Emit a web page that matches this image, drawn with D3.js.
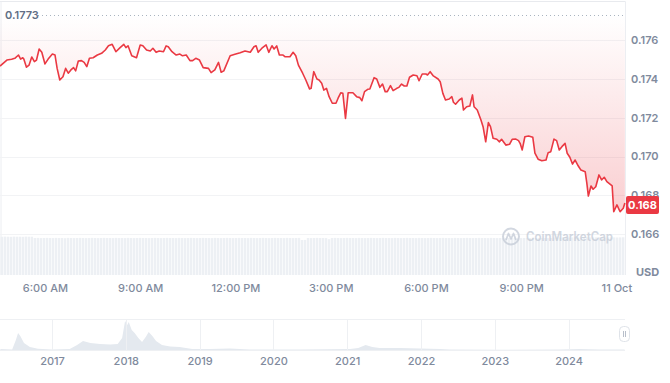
<!DOCTYPE html>
<html><head><meta charset="utf-8">
<script src="https://cdn.jsdelivr.net/npm/d3@7"></script>
<style>body{margin:0;background:#fff;} svg{display:block;font-family:Inter,"Noto Sans",sans-serif;}</style>
</head><body><svg id="c" width="670" height="383"></svg>
<script>
// minutes after 00:00 on 10 Oct
const times = [275,288,297,303,310,314,318,320,325,330,335,340,344,349,354,360,366,374,379,383,388,394,399,404,409,414,418,423,429,434,439,444,451,459,467,474,480,487,494,502,509,513,517,524,533,540,545,552,559,564,570,576,584,589,593,600,608,615,620,627,634,639,645,652,659,669,674,681,688,693,698,710,719,729,738,748,755,759,763,770,778,783,789,793,798,803,810,814,823,829,834,839,847,853,860,863,868,874,878,883,887,892,897,903,910,914,919,923,928,933,942,949,955,959,964,970,974,982,987,993,998,1003,1007,1013,1018,1025,1029,1034,1039,1044,1049,1056,1063,1067,1073,1080,1083,1088,1094,1103,1107,1112,1117,1124,1129,1132,1136,1143,1148,1151,1157,1163,1168,1171,1177,1184,1188,1193,1198,1202,1207,1214,1219,1223,1231,1238,1243,1250,1255,1258,1262,1267,1274,1282,1286,1292,1299,1307,1311,1316,1322,1327,1332,1337,1343,1347,1352,1357,1362,1368,1373,1381,1384,1387,1392,1396,1401,1407,1412,1417,1422,1432,1435,1441,1447,1453,1456];
const prices = [0.17467,0.17498,0.17502,0.17507,0.17524,0.17503,0.17510,0.17503,0.17461,0.17472,0.17514,0.17490,0.17498,0.17555,0.17538,0.17478,0.17503,0.17529,0.17524,0.17455,0.17395,0.17412,0.17455,0.17430,0.17447,0.17459,0.17442,0.17493,0.17495,0.17486,0.17464,0.17507,0.17510,0.17524,0.17533,0.17550,0.17572,0.17579,0.17541,0.17562,0.17579,0.17562,0.17572,0.17520,0.17510,0.17576,0.17572,0.17550,0.17545,0.17559,0.17538,0.17545,0.17541,0.17571,0.17567,0.17541,0.17524,0.17529,0.17520,0.17524,0.17495,0.17495,0.17507,0.17498,0.17459,0.17455,0.17433,0.17447,0.17486,0.17435,0.17442,0.17520,0.17528,0.17536,0.17545,0.17538,0.17567,0.17572,0.17538,0.17559,0.17576,0.17538,0.17572,0.17555,0.17571,0.17524,0.17524,0.17515,0.17515,0.17538,0.17520,0.17472,0.17430,0.17395,0.17349,0.17352,0.17438,0.17400,0.17395,0.17378,0.17343,0.17352,0.17309,0.17275,0.17275,0.17301,0.17329,0.17326,0.17197,0.17329,0.17329,0.17309,0.17304,0.17288,0.17335,0.17347,0.17349,0.17407,0.17400,0.17357,0.17374,0.17335,0.17335,0.17366,0.17340,0.17352,0.17357,0.17374,0.17364,0.17364,0.17409,0.17421,0.17417,0.17391,0.17426,0.17426,0.17421,0.17438,0.17416,0.17400,0.17386,0.17326,0.17292,0.17297,0.17309,0.17280,0.17270,0.17292,0.17301,0.17240,0.17257,0.17261,0.17318,0.17257,0.17240,0.17189,0.17154,0.17076,0.17175,0.17154,0.17094,0.17089,0.17076,0.17089,0.17059,0.17063,0.17089,0.17090,0.17082,0.17068,0.17034,0.17102,0.17106,0.17099,0.17017,0.16986,0.16978,0.16982,0.17020,0.17025,0.17090,0.17082,0.17034,0.17051,0.17068,0.17017,0.16996,0.16961,0.16982,0.16951,0.16930,0.16922,0.16865,0.16796,0.16848,0.16831,0.16844,0.16905,0.16879,0.16893,0.16870,0.16848,0.16715,0.16750,0.16715,0.16733,0.16760];
const volumes = [38.3,38.4,38.3,38.2,38.4,38.3,38.3,38.2,38.4,38.3,38.3,37.0,37.1,36.9,37.0,37.1,
37.0,36.9,37.1,37.0,37.0,36.8,37.1,37.0,36.9,37.0,37.1,37.0,36.9,37.0,37.1,37.0,
36.9,37.0,37.1,37.0,37.0,36.9,37.1,37.0,37.0,36.9,37.1,37.0,36.9,37.0,37.1,37.0,
37.0,36.9,37.0,37.1,37.0,36.9,37.0,37.1,37.0,37.0,36.9,37.1,37.0,36.9,37.0,37.1,
37.0,36.9,37.0,37.1,37.0,37.0,36.9,37.1,37.0,36.9,37.0,37.1,37.0,36.9,37.0,37.1,
37.0,37.0,36.9,37.1,37.0,36.9,37.0,37.1,37.0,36.9,37.0,37.1,37.0,37.0,36.9,37.1,
37.0,36.9,37.0,37.1,35.0,35.1,37.0,36.9,37.0,37.1,37.0,37.0,36.9,35.8,37.0,37.1,
37.0,36.9,37.0,37.1,37.0,37.0,36.9,37.1,37.0,36.9,37.0,37.1,37.0,36.9,37.0,37.1,
37.0,37.0,36.9,37.1,37.0,36.9,37.0,37.1,37.0,37.0,36.9,37.1,37.0,36.9,37.0,37.1,
37.0,36.9,37.0,37.1,37.0,37.0,36.9,37.1,37.0,36.9,37.0,37.1,37.0,36.9,37.0,37.1,
37.0,37.0,36.9,37.1,37.0,36.9,37.0,37.1,37.0,37.0,36.9,37.1,37.0,36.9,37.0,37.1,
37.0,36.9,37.0,37.1,37.0,37.0,36.9,37.1,37.5,37.6,37.5,37.7,37.6,37.5,37.6,37.7,
37.6,37.5,37.6,37.7,37.6,37.5,37.6,37.7,37.6,37.5,37.6,37.7,37.6,37.5,37.6,37.7];
const priceTicks = [0.166,0.168,0.170,0.172,0.174,0.176];
const timeTicks = [360,540,720,900,1080,1260,1440];
const timeTickLabels = ["6:00 AM","9:00 AM","12:00 PM","3:00 PM","6:00 PM","9:00 PM","11 Oct"];
const openPrice = 0.1773;
const navYears = [2016.30,2016.46,2016.51,2016.54,2016.57,2016.62,2016.70,2016.81,2017.00,2017.24,2017.34,2017.42,2017.52,2017.65,2017.79,2017.89,2017.95,2017.99,2018.02,2018.04,2018.08,2018.12,2018.17,2018.22,2018.27,2018.31,2018.36,2018.41,2018.49,2018.60,2018.73,2018.90,2019.14,2019.41,2019.68,2020.36,2021.04,2021.15,2021.25,2021.34,2021.44,2021.72,2021.99,2022.26,2022.39,2023.07,2023.88,2024.15,2024.42,2024.76];
const navValues = [3,2,33,57,47,23,10,4,2,3,17,30,23,20,18,20,40,97,83,93,67,57,40,27,43,60,47,30,17,12,10,3,3,5,2,2,3,7,17,10,7,7,5,3,2,1,2,3,2,2];
const yearTicks = [2017,2018,2019,2020,2021,2022,2023,2024];
const yearTickLabels = ["2017","2018","2019","2020","2021","2022","2023","2024"];

const svg = d3.select("#c");
const W = 625;
const base = new Date(2024, 9, 10, 0, 0, 0);
const toDate = m => new Date(base.getTime() + m * 60000);
const data = times.map((t, i) => ({t: toDate(t), v: prices[i]}));

const x = d3.scaleTime().domain([toDate(275), toDate(1456.25)]).range([0, W]);
const y = d3.scaleLinear().domain([0.166, 0.176]).range([234, 40.3]);
const yv = d3.scaleLinear().domain([0, 40]).range([275, 235]);
const xb = d3.scaleBand().domain(d3.range(volumes.length)).range([0, W]).padding(0.2);

const red = "#ea3943", grey = "#808a9d";

const defs = svg.append("defs");
const grad = defs.append("linearGradient").attr("id", "g").attr("gradientUnits", "userSpaceOnUse")
  .attr("x1", 0).attr("x2", 0).attr("y1", y(openPrice)).attr("y2", 215);
grad.append("stop").attr("offset", 0).attr("stop-color", red).attr("stop-opacity", 0);
grad.append("stop").attr("offset", 1).attr("stop-color", red).attr("stop-opacity", 0.25);

// frame
svg.append("line").attr("x1", 0).attr("x2", W + 0.5).attr("y1", 1.5).attr("y2", 1.5).attr("stroke", "#e8eaee");
svg.append("line").attr("x1", 1).attr("x2", 1).attr("y1", 1.5).attr("y2", 275).attr("stroke", "#eceef2");
svg.append("line").attr("x1", W + 0.5).attr("x2", W + 0.5).attr("y1", 1.5).attr("y2", 275).attr("stroke", "#eceef2");

// grid
svg.append("g").selectAll("line").data(priceTicks).join("line")
  .attr("x1", 0).attr("x2", W).attr("y1", d => Math.round(y(d)) + 0.5).attr("y2", d => Math.round(y(d)) + 0.5)
  .attr("stroke", "#f2f3f5");

// volume bars
svg.append("g").selectAll("rect").data(volumes).join("rect")
  .attr("x", (d, i) => xb(i)).attr("width", xb.bandwidth())
  .attr("y", d => yv(d)).attr("height", d => yv(0) - yv(d)).attr("fill", "#edf0f4");

// area between line and opening price
svg.append("path").datum(data)
  .attr("d", d3.area().x(d => x(d.t)).y0(y(openPrice)).y1(d => y(d.v)))
  .attr("fill", "url(#g)");

// opening dotted line
svg.append("line").attr("x1", 38).attr("x2", W).attr("y1", Math.round(y(openPrice)) + 0.5).attr("y2", Math.round(y(openPrice)) + 0.5)
  .attr("stroke", "#aab4c0").attr("stroke-dasharray", "1,3").attr("stroke-width", 1.2);
svg.append("text").attr("x", 5).attr("y", y(openPrice)).attr("dy", "0.34em")
  .attr("font-size", 11).attr("font-weight", 600).attr("fill", "#616e85").text(d3.format(".4f")(openPrice));

// price line
svg.append("path").datum(data)
  .attr("d", d3.line().x(d => x(d.t)).y(d => y(d.v)))
  .attr("fill", "none").attr("stroke", red).attr("stroke-width", 1.6).attr("stroke-linejoin", "round");

// watermark
const wm = svg.append("g").attr("opacity", 0.75);
wm.append("circle").attr("cx", 511).attr("cy", 236.5).attr("r", 8).attr("fill", "none").attr("stroke", "#c3cad6").attr("stroke-width", 2);
wm.append("path").attr("d", "M506,240 L508.5,233.5 L511,239 L513.5,233.5 L516,240").attr("fill", "none").attr("stroke", "#c3cad6").attr("stroke-width", 1.8).attr("stroke-linejoin", "round");
wm.append("text").attr("x", 526).attr("y", 241).attr("font-size", 12.5).attr("font-weight", 600).attr("fill", "#c3cad6")
  .attr("textLength", 87).attr("lengthAdjust", "spacingAndGlyphs").text("CoinMarketCap");

// y axis labels (right)
svg.append("g").selectAll("text").data(priceTicks).join("text")
  .attr("x", 631).attr("y", d => y(d)).attr("dy", "0.34em")
  .attr("font-size", 11).attr("font-weight", 600).attr("fill", grey).text(d => d3.format(".3f")(d));
svg.append("text").attr("x", 636).attr("y", 272).attr("dy", "0.34em")
  .attr("font-size", 11).attr("font-weight", 700).attr("fill", grey).text("USD");

// last price label
const last = data[data.length - 1];
const ly = y(last.v) + 2;
svg.append("rect").attr("x", 626).attr("y", ly - 9).attr("width", 33).attr("height", 18).attr("rx", 2).attr("fill", red);
svg.append("text").attr("x", 642.5).attr("y", ly).attr("dy", "0.35em").attr("text-anchor", "middle")
  .attr("font-size", 11).attr("font-weight", 700).attr("fill", "#fff").text(d3.format(".3f")(last.v));

// time axis
const xa = svg.append("g").attr("transform", "translate(0,281)")
  .call(d3.axisBottom(x).tickValues(timeTicks.map(toDate)).tickFormat((d, i) => timeTickLabels[i]).tickSize(0).tickPadding(3));
xa.select(".domain").remove();
xa.selectAll("text").attr("font-size", 11).attr("font-weight", 500).attr("fill", grey).attr("font-family", "Inter,'Noto Sans',sans-serif");

// navigator
const xn = d3.scaleLinear().domain([2016.295, 2024.765]).range([0, W]);
const yn = d3.scaleLinear().domain([0, 100]).range([350, 320]);
const nav = svg.append("g");
nav.append("path").datum(navYears.map((d, i) => [d, navValues[i]]))
  .attr("d", d3.area().x(d => xn(d[0])).y0(350).y1(d => yn(d[1])).curve(d3.curveLinear))
  .attr("fill", "#e4e9ef");
nav.selectAll("line.v").data(yearTicks).join("line").attr("class", "v")
  .attr("x1", d => Math.round(xn(d)) + 0.5).attr("x2", d => Math.round(xn(d)) + 0.5).attr("y1", 319.5).attr("y2", 350.5)
  .attr("stroke", "#eef0f3");
nav.append("line").attr("x1", 0).attr("x2", W).attr("y1", 319.5).attr("y2", 319.5).attr("stroke", "#eef0f3");
nav.append("line").attr("x1", 0).attr("x2", W).attr("y1", 350.5).attr("y2", 350.5).attr("stroke", "#eef0f3");
const ya = svg.append("g").attr("transform", "translate(0,354)")
  .call(d3.axisBottom(xn).tickValues(yearTicks).tickFormat((d, i) => yearTickLabels[i]).tickSize(0).tickPadding(3));
ya.select(".domain").remove();
ya.selectAll("text").attr("font-size", 11).attr("font-weight", 500).attr("fill", grey).attr("font-family", "Inter,'Noto Sans',sans-serif");

// handle
nav.append("rect").attr("x", 619.5).attr("y", 326.5).attr("width", 10).attr("height", 15).attr("rx", 4)
  .attr("fill", "#fff").attr("stroke", "#dfe3e9");
nav.append("line").attr("x1", 623.5).attr("x2", 623.5).attr("y1", 331).attr("y2", 337).attr("stroke", "#b8bfca");
nav.append("line").attr("x1", 625.5).attr("x2", 625.5).attr("y1", 331).attr("y2", 337).attr("stroke", "#b8bfca");
</script></body></html>
